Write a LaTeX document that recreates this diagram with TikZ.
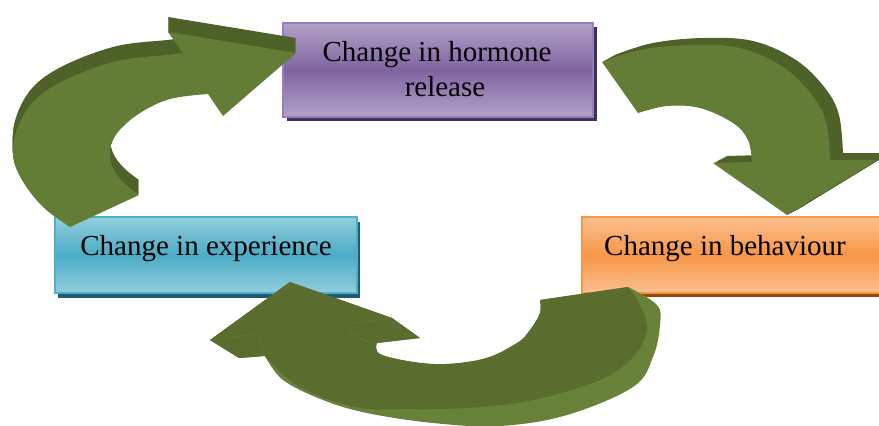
\documentclass[tikz,border=0pt]{standalone}
\usepackage{fontspec}
\setmainfont{Liberation Serif}
\usetikzlibrary{shadows}
\definecolor{plight}{RGB}{178,161,199}
\definecolor{pdark}{RGB}{128,100,162}
\definecolor{pborder}{RGB}{152,126,192}
\definecolor{pshadow}{RGB}{63,49,81}
\definecolor{blight}{RGB}{146,205,220}
\definecolor{bdark}{RGB}{75,172,198}
\definecolor{bborder}{RGB}{80,175,200}
\definecolor{bshadow}{RGB}{31,90,110}
\definecolor{olight}{RGB}{250,192,144}
\definecolor{odark}{RGB}{247,150,70}
\definecolor{oborder}{RGB}{247,150,70}
\definecolor{oshadow}{RGB}{152,72,7}
\definecolor{aface}{RGB}{100,125,54}
\definecolor{aside}{RGB}{78,97,40}
\definecolor{cface}{RGB}{90,108,46}
\definecolor{crim}{RGB}{104,130,58}
\definecolor{cridge}{RGB}{98,120,52}

\newcommand\arrowApath{(70,227) -- plot[smooth, tension=0.6] coordinates {(70,227) (43,207) (22,180) (13,155) (18,127) (35,100) (67,79) (117,61) (167,55) (183,53)} -- (168,32) -- (296,53) -- (223,116) -- (208,94) -- plot[smooth, tension=0.6] coordinates {(208,94) (170,99) (140,113) (118,132) (110,150) (113,168) (124,183) (139,195)} -- cycle}

\newcommand\arrowBpath{(602,62) -- plot[smooth, tension=0.6] coordinates {(602,62) (640,50) (690,45) (740,48) (783,67) (812,95) (826,122) (830,160)} -- (877,160) -- (787,215) -- (713,163) -- (752,162) -- plot[smooth, tension=0.6] coordinates {(752,162) (748,140) (733,123) (700,108) (667,106) (638,113)} -- cycle}

\begin{document}
\begin{tikzpicture}[x=1pt,y=-1pt,
  box/.style={rectangle, inner sep=0pt, line width=1.4pt},
  pbox/.style={box, draw=pborder, top color=plight, bottom color=plight, middle color=pdark,
    general shadow={shadow xshift=4pt, shadow yshift=-4pt, fill=pshadow},
    minimum width=310pt, minimum height=94pt},
  bbox/.style={box, draw=bborder, top color=blight, bottom color=blight, middle color=bdark,
    general shadow={shadow xshift=3pt, shadow yshift=-5pt, fill=bshadow},
    minimum width=302pt, minimum height=76pt},
  obox/.style={box, draw=oborder, top color=olight, bottom color=olight, middle color=odark,
    general shadow={shadow xshift=3pt, shadow yshift=-4pt, fill=oshadow},
    minimum width=304pt, minimum height=76pt},
  lbl/.style={font=\fontsize{29}{34}\selectfont, inner sep=0pt, text=black}
]
\useasboundingbox (0,0) rectangle (879,426);
\clip (0,0) rectangle (879,426);

% boxes
\node[pbox] (hormone) at (438,70) {};
\node[bbox] (experience) at (206,255) {};
\node[obox] (behaviour) at (734,255) {};

\node[lbl, anchor=base] (hormoneA) at (437,61) {Change in hormone};
\node[lbl, anchor=base] (hormoneB) at (445,96) {release};
\node[lbl, anchor=base] (experienceT) at (206,255) {Change in experience};
\node[lbl, anchor=base] (behaviourT) at (725,255) {Change in behaviour};

% arrow 1 (experience -> hormone)
\foreach \t in {1,2,...,15} { \fill[aside, yshift=\t pt] \arrowApath; }
\fill[aface] \arrowApath;

% arrow 2 (hormone -> behaviour)
\foreach \t in {0.1,0.2,...,1.0} { \fill[aside, xshift=13*\t pt, yshift=7*\t pt] \arrowBpath; }
\fill[aface] \arrowBpath;

% arrow 3 (behaviour -> experience)
\fill[crim] (290,282) -- (392,318) -- (420,338) -- (377,343)
  -- plot[smooth, tension=0.6] coordinates {(377,343) (382,355) (433,364) (483,359) (517,343) (530,330) (540,313) (540,300)}
  -- (628,287) -- plot[smooth, tension=0.6] coordinates {(628,287) (657,305) (660,325) (653,357) (633,387) (567,415) (500,426) (433,423) (367,413) (323,400) (283,380) (265,356)}
  -- (239,358) -- (210,340) -- cycle;
\fill[cface] (290,282) -- (392,318) -- (420,338) -- (377,343)
  -- plot[smooth, tension=0.6] coordinates {(377,343) (382,355) (433,364) (483,359) (517,343) (530,330) (540,313) (540,300)}
  -- (628,287) -- plot[smooth, tension=0.6] coordinates {(628,287) (640,305) (647,330) (633,357) (600,380) (533,400) (467,408) (400,409) (367,409) (333,401) (300,387) (280,372) (265,356)}
  -- (239,358) -- (210,340) -- cycle;
\draw[cridge, line width=0.8pt] (210,340) -- (257,334) -- (265,356);
\draw[cridge, line width=0.8pt] (345,324) .. controls (355,338) and (370,345) .. (377,343);
\draw[cridge, line width=0.6pt] (345,324) -- (392,318);
\end{tikzpicture}
\end{document}
